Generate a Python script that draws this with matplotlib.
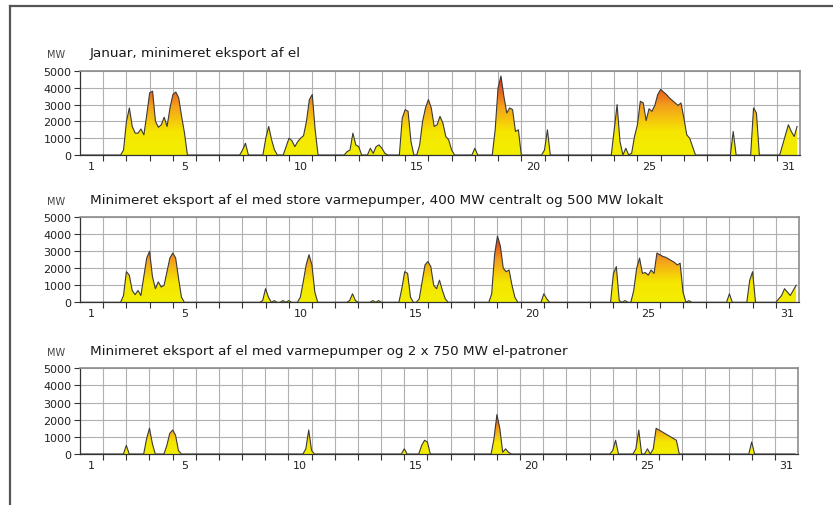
import numpy as np
import matplotlib
matplotlib.use("Agg")
import matplotlib.pyplot as plt
from matplotlib.colors import LinearSegmentedColormap
from matplotlib.lines import Line2D

STEP_HOURS = 3
DAYS = 31

export_min = [
    0, 0, 0, 0, 0, 0, 0, 0,                              # 1
    0, 0, 0, 0, 0, 0, 0, 300,                            # 2
    2000, 2800, 1700, 1300, 1300, 1550, 1200, 2400,      # 3
    3700, 3800, 2000, 1650, 1800, 2250, 1700, 2800,      # 4
    3600, 3750, 3400, 2300, 1300, 0, 0, 0,               # 5
    0, 0, 0, 0, 0, 0, 0, 0,                              # 6
    0, 0, 0, 0, 0, 0, 0, 0,                              # 7
    300, 700, 0, 0, 0, 0, 0, 0,                          # 8
    1000, 1700, 900, 300, 0, 0, 0, 500,                  # 9
    1000, 850, 500, 800, 1000, 1150, 2000, 3300,         # 10
    3600, 1500, 0, 0, 0, 0, 0, 0,                        # 11
    0, 0, 0, 0, 200, 300, 1300, 600,                     # 12
    500, 0, 0, 0, 400, 100, 500, 600,                    # 13
    400, 100, 0, 0, 0, 0, 0, 2200,                       # 14
    2700, 2600, 800, 0, 0, 600, 2000, 2800,              # 15
    3300, 2800, 1700, 1800, 2300, 1900, 1100, 900,       # 16
    300, 0, 0, 0, 0, 0, 0, 0,                            # 17
    400, 0, 0, 0, 0, 0, 0, 1500,                         # 18
    4000, 4700, 3500, 2500, 2800, 2700, 1400, 1500,      # 19
    0, 0, 0, 0, 0, 0, 0, 0,                              # 20
    300, 1500, 0, 0, 0, 0, 0, 0,                         # 21
    0, 0, 0, 0, 0, 0, 0, 0,                              # 22
    0, 0, 0, 0, 0, 0, 0, 0,                              # 23
    1500, 3000, 800, 0, 400, 0, 100, 1100,               # 24
    1800, 3200, 3100, 2050, 2750, 2600, 2950, 3600,      # 25
    3900, 3750, 3600, 3400, 3250, 3100, 2950, 3100,      # 26
    2200, 1200, 1000, 500, 0, 0, 0, 0,                   # 27
    0, 0, 0, 0, 0, 0, 0, 0,                              # 28
    0, 1400, 0, 0, 0, 0, 0, 0,                           # 29
    2800, 2500, 0, 0, 0, 0, 0, 0,                        # 30
    0, 0, 600, 1200, 1800, 1400, 1100, 1700,             # 31
]

export_heatpumps = [
    0, 0, 0, 0, 0, 0, 0, 0,                              # 1
    0, 0, 0, 0, 0, 0, 0, 400,                            # 2
    1800, 1600, 700, 450, 700, 400, 1500, 2600,          # 3
    3000, 1500, 800, 1200, 900, 1000, 1800, 2600,        # 4
    2900, 2600, 1400, 300, 0, 0, 0, 0,                   # 5
    0, 0, 0, 0, 0, 0, 0, 0,                              # 6
    0, 0, 0, 0, 0, 0, 0, 0,                              # 7
    0, 0, 0, 0, 0, 0, 0, 100,                            # 8
    800, 300, 0, 100, 0, 0, 100, 0,                      # 9
    100, 0, 0, 0, 300, 1200, 2200, 2800,                 # 10
    2200, 600, 0, 0, 0, 0, 0, 0,                         # 11
    0, 0, 0, 0, 0, 100, 500, 100,                        # 12
    0, 0, 0, 0, 0, 100, 0, 100,                          # 13
    0, 0, 0, 0, 0, 0, 0, 800,                            # 14
    1800, 1700, 300, 0, 0, 200, 1200, 2200,              # 15
    2400, 2100, 1000, 800, 1300, 700, 200, 0,            # 16
    0, 0, 0, 0, 0, 0, 0, 0,                              # 17
    0, 0, 0, 0, 0, 0, 500, 2800,                         # 18
    3900, 3300, 2000, 1800, 1900, 1000, 300, 0,          # 19
    0, 0, 0, 0, 0, 0, 0, 0,                              # 20
    500, 200, 0, 0, 0, 0, 0, 0,                          # 21
    0, 0, 0, 0, 0, 0, 0, 0,                              # 22
    0, 0, 0, 0, 0, 0, 0, 0,                              # 23
    1700, 2100, 100, 0, 100, 0, 0, 700,                  # 24
    2000, 2600, 1700, 1750, 1600, 1900, 1700, 2900,      # 25
    2800, 2700, 2650, 2550, 2450, 2350, 2200, 2300,      # 26
    600, 0, 100, 0, 0, 0, 0, 0,                          # 27
    0, 0, 0, 0, 0, 0, 0, 0,                              # 28
    500, 0, 0, 0, 0, 0, 0, 1300,                         # 29
    1800, 0, 0, 0, 0, 0, 0, 0,                           # 30
    0, 200, 400, 800, 600, 400, 700, 1000,               # 31
]

export_boilers = [
    0, 0, 0, 0, 0, 0, 0, 0,                              # 1
    0, 0, 0, 0, 0, 0, 0, 0,                              # 2
    500, 0, 0, 0, 0, 0, 0, 900,                          # 3
    1500, 600, 0, 0, 0, 0, 500, 1200,                    # 4
    1400, 1100, 200, 0, 0, 0, 0, 0,                      # 5
    0, 0, 0, 0, 0, 0, 0, 0,                              # 6
    0, 0, 0, 0, 0, 0, 0, 0,                              # 7
    0, 0, 0, 0, 0, 0, 0, 0,                              # 8
    0, 0, 0, 0, 0, 0, 0, 0,                              # 9
    0, 0, 0, 0, 0, 0, 300, 1400,                         # 10
    200, 0, 0, 0, 0, 0, 0, 0,                            # 11
    0, 0, 0, 0, 0, 0, 0, 0,                              # 12
    0, 0, 0, 0, 0, 0, 0, 0,                              # 13
    0, 0, 0, 0, 0, 0, 0, 0,                              # 14
    300, 0, 0, 0, 0, 0, 500, 800,                        # 15
    700, 0, 0, 0, 0, 0, 0, 0,                            # 16
    0, 0, 0, 0, 0, 0, 0, 0,                              # 17
    0, 0, 0, 0, 0, 0, 0, 900,                            # 18
    2300, 1500, 100, 300, 100, 0, 0, 0,                  # 19
    0, 0, 0, 0, 0, 0, 0, 0,                              # 20
    0, 0, 0, 0, 0, 0, 0, 0,                              # 21
    0, 0, 0, 0, 0, 0, 0, 0,                              # 22
    0, 0, 0, 0, 0, 0, 0, 0,                              # 23
    200, 800, 0, 0, 0, 0, 0, 0,                          # 24
    300, 1400, 0, 0, 300, 0, 300, 1500,                  # 25
    1400, 1300, 1200, 1100, 1000, 900, 800, 0,           # 26
    0, 0, 0, 0, 0, 0, 0, 0,                              # 27
    0, 0, 0, 0, 0, 0, 0, 0,                              # 28
    0, 0, 0, 0, 0, 0, 0, 0,                              # 29
    700, 0, 0, 0, 0, 0, 0, 0,                            # 30
    0, 0, 0, 0, 0, 0, 0, 0,                              # 31
]

titles = [
    "Januar, minimeret eksport af el",
    "Minimeret eksport af el med store varmepumper, 400 MW centralt og 500 MW lokalt",
    "Minimeret eksport af el med varmepumper og 2 x 750 MW el-patroner",
]
y_ticks = [0, 1000, 2000, 3000, 4000, 5000]
day_labels = [1, 5, 10, 15, 20, 25, 31]

CMAP = LinearSegmentedColormap.from_list(
    "heat", [(0.0, "#f2ee00"), (0.3, "#f6e600"), (0.62, "#f4a01c"), (1.0, "#dc281e")])

fig = plt.figure(figsize=(8.33, 5.06), dpi=100)
W, H = 833, 506

# frame lines at top and left of the figure
fig.add_artist(Line2D([9.5 / W, 1], [1 - 6.5 / H, 1 - 6.5 / H], color="#555555", lw=1.6))
fig.add_artist(Line2D([9.5 / W, 9.5 / W], [0, 1 - 6.5 / H], color="#555555", lw=1.6))

# (top, bottom, right) of each plot area in pixels
panels = [(72, 156, 800), (218.3, 303.3, 799), (369.3, 455, 798)]
series = [export_min, export_heatpumps, export_boilers]


def draw_panel(ax, values):
    vals = np.array(values, dtype=float)
    hours = np.arange(len(vals)) * STEP_HOURS
    fill = ax.fill_between(hours, vals, 0, facecolor="none", edgecolor="none")
    grad = np.linspace(0, 1, 256).reshape(-1, 1)
    im = ax.imshow(grad, extent=[0, DAYS * 24, 0, vals.max()], origin="lower",
                   aspect="auto", cmap=CMAP, zorder=2)
    im.set_clip_path(fill.get_paths()[0], transform=ax.transData)
    ax.plot(hours, vals, color="#3a3a3a", lw=0.8, zorder=3)

    ax.set_xlim(0, DAYS * 24)
    ax.set_ylim(0, 5000)
    ax.set_yticks(y_ticks)
    ax.set_xticks(np.arange(24, DAYS * 24, 24))
    ax.set_xticklabels([])
    ax.set_xticks([(d - 0.5) * 24 for d in day_labels], minor=True)
    ax.set_xticklabels([str(d) for d in day_labels], minor=True)
    ax.tick_params(axis="x", which="minor", length=0, pad=4, labelsize=8, labelcolor="#222222")
    ax.tick_params(axis="x", which="major", length=4, width=0.8, color="#333333", direction="out")
    ax.tick_params(axis="y", length=4, width=0.8, color="#333333", labelsize=8,
                   labelcolor="#222222", pad=2)
    ax.grid(True, which="major", color="#b0b0b0", lw=0.8)
    ax.set_axisbelow(True)
    for side in ("top", "right"):
        ax.spines[side].set_color("#8c8c8c")
        ax.spines[side].set_linewidth(1.2)
    for side in ("left", "bottom"):
        ax.spines[side].set_color("#333333")
        ax.spines[side].set_linewidth(0.9)


for (top, bottom, right), values, title in zip(panels, series, titles):
    ax = fig.add_axes([80 / W, 1 - bottom / H, (right - 80) / W, (bottom - top) / H])
    draw_panel(ax, values)
    ty = 1 - (top - 18) / H
    fig.text(90 / W, ty, title, fontsize=9.7, color="#1a1a1a", va="center", ha="left")
    fig.text(56 / W, ty - 1.5 / H, "MW", fontsize=7, color="#444444", va="center", ha="center")

fig.savefig("out.png", dpi=100)
